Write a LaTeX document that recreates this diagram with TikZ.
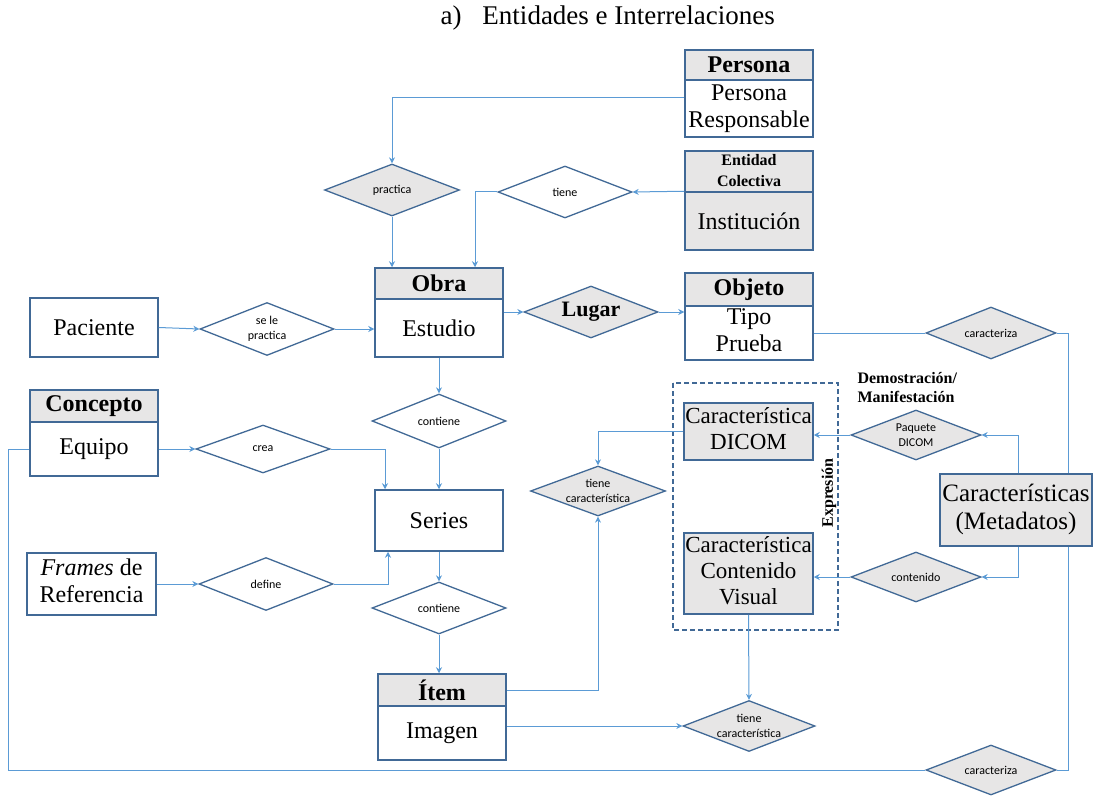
\documentclass[tikz,border=0pt]{standalone}
\usepackage{fontspec}
\setmainfont{Liberation Serif}
\newfontfamily\tnr{Liberation Serif}
\newfontfamily\calib{Carlito}
\usetikzlibrary{shapes.geometric,arrows.meta}
\definecolor{linec}{RGB}{91,155,213}
\definecolor{bordc}{RGB}{65,105,150}
\definecolor{grayf}{RGB}{231,230,230}
\newcommand{\dos}[1]{\begin{tabular}{@{}c@{}}#1\end{tabular}}

\begin{document}
\begin{tikzpicture}[x=1pt,y=-1pt,
  ent/.style={draw=bordc,line width=1.5pt,fill=white,inner sep=0pt},
  lab/.style={inner sep=2pt,font=\tnr\fontsize{24}{27}\selectfont},
  labm/.style={inner sep=2pt,font=\tnr\fontsize{23}{26}\selectfont},
  hdr/.style={ent,fill=grayf,font=\tnr\bfseries\fontsize{24}{27}\selectfont},
  rel/.style={diamond,aspect=2.6,draw=bordc,line width=1.3pt,fill=white,inner sep=0pt,align=center,font=\calib\fontsize{12}{15.5}\selectfont},
  relg/.style={rel,fill=grayf},
  link/.style={draw=linec,line width=1pt},
  arr/.style={link,-{Stealth[length=6pt,width=6pt]}}]
\useasboundingbox (0,0) rectangle (1096,797);

\node[anchor=west,font=\tnr\fontsize{27}{30}\selectfont] (titulo) at (437,18) {a)\hspace{21pt}Entidades e Interrelaciones};

\node[hdr,minimum width=128pt,minimum height=30pt] (personah) at (749,65) {Persona};
\node[ent,minimum width=128pt,minimum height=57pt,label={[lab]center:{\dos{Persona\\Responsable}}}] (persona) at (749,108.5) {};
\node[hdr,minimum width=128pt,minimum height=40pt,font=\tnr\bfseries\fontsize{16}{21}\selectfont] (entidadh) at (749,172) {\dos{Entidad\\Colectiva}};
\node[ent,minimum width=128pt,minimum height=58pt,fill=grayf,label={[lab]center:Institución}] (entidad) at (749,221) {};
\node[hdr,minimum width=128pt,minimum height=33pt] (objetoh) at (749,289.5) {Objeto};
\node[ent,minimum width=128pt,minimum height=54pt,label={[lab]center:{\dos{Tipo\\Prueba}}}] (objeto) at (749,333) {};

\node[hdr,minimum width=128pt,minimum height=31pt] (obrah) at (439,283.5) {Obra};
\node[ent,minimum width=128pt,minimum height=58pt,label={[lab]center:Estudio}] (obra) at (439,328) {};
\node[ent,minimum width=128pt,minimum height=59pt,label={[lab]center:Paciente}] (paciente) at (94,327.5) {};
\node[hdr,minimum width=128pt,minimum height=32pt] (conceptoh) at (94,406) {Concepto};
\node[ent,minimum width=128pt,minimum height=54pt,label={[lab]center:Equipo}] (equipo) at (94,449) {};
\node[ent,minimum width=128pt,minimum height=61pt,label={[lab]center:Series}] (series) at (439,520.5) {};
\node[ent,minimum width=129pt,minimum height=62pt,label={[lab]center:{\dos{\textit{Frames} de\\Referencia}}}] (frames) at (91.5,584) {};
\node[hdr,minimum width=128pt,minimum height=32pt] (itemh) at (442,690) {Ítem};
\node[ent,minimum width=128pt,minimum height=54pt,label={[lab]center:Imagen}] (item) at (442,733) {};

\draw[bordc,line width=1.3pt,dash pattern=on 5pt off 3pt] (673,383) rectangle (838,630);
\node[ent,fill=grayf,minimum width=129pt,minimum height=57pt,label={[labm]center:{\dos{Característica\\DICOM}}}] (dicom) at (748.5,431.5) {};
\node[ent,fill=grayf,minimum width=129pt,minimum height=81pt,label={[labm]center:{\dos{Característica\\Contenido\\Visual}}}] (visual) at (748.5,573.5) {};
\node[rotate=90,font=\tnr\bfseries\fontsize{16}{19}\selectfont] (expresion) at (829,493) {Expresión};
\node[anchor=west,align=left,font=\tnr\bfseries\fontsize{16}{19}\selectfont] (demo) at (854,388) {Demostración/\\Manifestación};

\node[relg,minimum width=135pt,minimum height=52pt] (practica) at (392,190) {practica};
\node[rel,minimum width=134pt,minimum height=52pt] (tiene) at (565,192) {tiene};
\node[rel,minimum width=134pt,minimum height=53pt] (sele) at (267,329) {se le\\practica};
\node[relg,minimum width=134pt,minimum height=52pt,font=\tnr\bfseries\fontsize{22}{24}\selectfont] (lugar) at (591,312) {Lugar};
\node[rel,minimum width=134pt,minimum height=54pt] (contiene) at (439,421) {contiene};
\node[rel,minimum width=134pt,minimum height=48pt] (crea) at (263,449) {crea};
\node[rel,minimum width=134pt,minimum height=53pt] (define) at (266,584) {define};
\node[rel,minimum width=134pt,minimum height=52pt] (contienedos) at (439,608) {contiene};
\node[relg,minimum width=135pt,minimum height=50pt] (tcuno) at (598,491) {tiene\\característica};
\node[relg,minimum width=132pt,minimum height=51pt] (tcdos) at (749,726) {tiene\\característica};
\node[relg,minimum width=130pt,minimum height=52pt] (caracuno) at (991,333) {caracteriza};
\node[relg,minimum width=130pt,minimum height=50pt] (paquete) at (916,435) {Paquete\\DICOM};
\node[relg,minimum width=130pt,minimum height=50pt] (contenido) at (916,577) {contenido};
\node[relg,minimum width=130pt,minimum height=50pt] (caracdos) at (991,770) {caracteriza};
\node[ent,fill=grayf,minimum width=152pt,minimum height=72pt,label={[lab,font=\tnr\fontsize{25}{28}\selectfont]center:{\dos{Características\\(Metadatos)}}}] (metadatos) at (1016,510) {};

\draw[arr] ([yshift=11pt]persona.west) -| (practica.north);
\draw[arr] (practica.south) -- (practica.south |- obrah.north);
\draw[arr] (entidad.north west) -- (tiene.east);
\draw[arr] (tiene.west) -| ([xshift=36pt]obrah.north);
\draw[arr] (paciente.east) -- (sele.west);
\draw[arr] (sele.east) -- (sele.east -| obra.west);
\draw[arr] (lugar.west -| obra.east) -- (lugar.west);
\draw[arr] (lugar.east) -- (lugar.east -| objeto.west);
\draw[link] (objeto.east) -- (caracuno.west);
\coordinate (derecha) at (1068,333);
\draw[link] (caracuno.east) -- (derecha) -- (derecha |- metadatos.north);
\draw[link] (derecha |- metadatos.south) -- (derecha |- caracdos) -- (caracdos.east);
\draw[arr] (obra.south) -- (contiene.north);
\draw[arr] (contiene.south) -- (series.north);
\draw[arr] (equipo.east) -- (crea.west);
\draw[arr] (crea.east) -| ([xshift=-54pt]series.north);
\draw[arr] (frames.east) -- (define.west);
\draw[arr] (define.east) -| ([xshift=-51pt]series.south);
\draw[arr] (series.south) -- (contienedos.north);
\draw[arr] (contienedos.south) -- (contienedos.south |- itemh.north);
\coordinate (izquierda) at (8,449);
\draw[link] (equipo.west) -- (izquierda) |- (caracdos.west);
\draw[arr] (itemh.east) -| (tcuno.south);
\draw[arr] (dicom.west) -| (tcuno.north);
\draw[arr] (tcdos.west -| item.east) -- (tcdos.west);
\draw[arr] (visual.south) -- (tcdos.north);
\draw[arr] ([xshift=2pt]metadatos.north) |- (paquete.east);
\draw[arr] (paquete.west) -- (paquete.west -| dicom.east);
\draw[arr] ([xshift=2pt]metadatos.south) |- (contenido.east);
\draw[arr] (contenido.west) -- (contenido.west -| visual.east);
\end{tikzpicture}
\end{document}
